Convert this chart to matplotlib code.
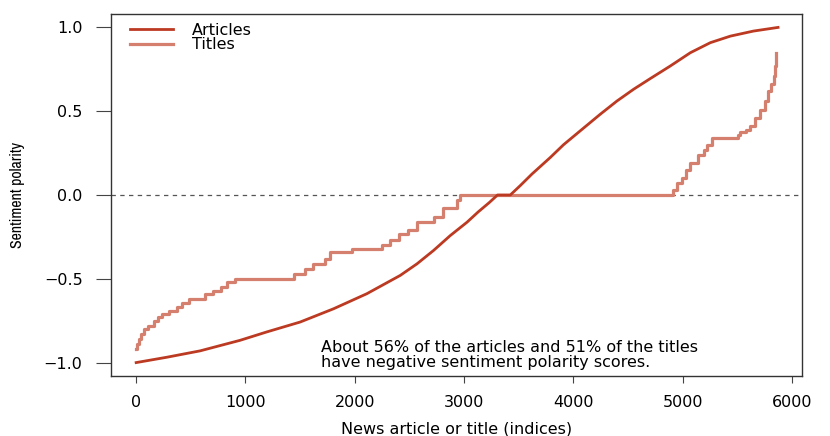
import matplotlib
matplotlib.use("Agg")
import matplotlib.pyplot as plt
from matplotlib import font_manager

# ---- data ----
article_idx = [0, 281, 585, 951, 1195, 1500, 1805, 2110, 2415, 2568, 2720, 2873,
               3025, 3130, 3230, 3305, 3422, 3513, 3620, 3788, 3909, 4062, 4245,
               4398, 4550, 4703, 4886, 5069, 5252, 5435, 5645, 5871]
article_val = [-1.0, -0.968, -0.930, -0.867, -0.817, -0.758, -0.679, -0.589, -0.480,
               -0.411, -0.331, -0.242, -0.163, -0.10, -0.045, 0.0, 0.0, 0.056, 0.125,
               0.224, 0.300, 0.383, 0.482, 0.561, 0.631, 0.695, 0.77, 0.849, 0.909,
               0.948, 0.978, 1.0]

title_idx = [0, 10, 25, 45, 70, 110, 160, 200, 240, 300, 375, 420, 480, 630, 700,
             780, 830, 900, 1440, 1546, 1620, 1730, 1775, 1976, 2250, 2325, 2400,
             2490, 2570, 2720, 2810, 2935, 2965, 4913, 4950, 4995, 5030, 5070, 5140,
             5190, 5225, 5270, 5508, 5525, 5580, 5617, 5660, 5710, 5750, 5782, 5810,
             5830, 5845, 5855]
title_val = [-0.92, -0.89, -0.86, -0.83, -0.80, -0.78, -0.75, -0.73, -0.71, -0.69,
             -0.67, -0.645, -0.62, -0.59, -0.57, -0.55, -0.52, -0.50, -0.47, -0.44,
             -0.41, -0.38, -0.34, -0.32, -0.30, -0.27, -0.23, -0.21, -0.16, -0.13,
             -0.08, -0.03, 0.0, 0.03, 0.07, 0.10, 0.15, 0.19, 0.24, 0.27, 0.30, 0.34,
             0.36, 0.375, 0.39, 0.41, 0.46, 0.51, 0.56, 0.62, 0.66, 0.71, 0.77, 0.85]

legend_labels = ["Articles", "Titles"]
x_ticks = [0, 1000, 2000, 3000, 4000, 5000, 6000]
y_ticks = [-1.0, -0.5, 0.0, 0.5, 1.0]
note = "About 56% of the articles and 51% of the titles\nhave negative sentiment polarity scores."

# ---- style ----
plt.rcParams['font.family'] = ['DejaVu Sans']
art_color = "#BC3A22"
tit_color = "#D5806F"
fs = 11.5

fig = plt.figure(figsize=(8.3, 4.36), dpi=100)
ax = fig.add_axes([111/830, 1-376/436, (802-111)/830, (376-14)/436])

ax.axhline(0, color="#555555", lw=0.9, ls=(0, (3.5, 3.5)), zorder=1)
l1, = ax.plot(article_idx, article_val, color=art_color, lw=2.0, zorder=3,
              label=legend_labels[0])
l2, = ax.step(title_idx, title_val, where='post', color=tit_color, lw=2.3, zorder=2,
              label=legend_labels[1])

ax.set_xlim(-230, 6090)
ax.set_ylim(-1.08, 1.08)
ax.set_xticks(x_ticks)
ax.set_xticklabels([str(t) for t in x_ticks])
ax.set_yticks(y_ticks)
ax.set_yticklabels([f"{t:.1f}".replace("-", "\u2212") for t in y_ticks])

for s in ax.spines.values():
    s.set_linewidth(1.0)
    s.set_color("#333333")
ax.tick_params(axis='y', length=10.5, width=0.8, color="#444444", labelsize=fs, pad=10)
ax.tick_params(axis='x', length=5, width=0.8, color="#444444", labelsize=fs, pad=9)

ax.set_xlabel("News article or title (indices)", fontsize=fs, labelpad=8)
narrow = [f.name for f in font_manager.fontManager.ttflist if 'Narrow' in f.name]
ylab_family = [narrow[0], 'Liberation Sans', 'DejaVu Sans'] if narrow else ['DejaVu Sans']
ax.set_ylabel("Sentiment polarity", fontsize=11.5, family=ylab_family)
ax.yaxis.set_label_coords(-0.125, 0.5)

leg = ax.legend(handles=[l1, l2], loc='upper left', frameon=False, fontsize=fs,
                handlelength=2.7, handletextpad=1.2, labelspacing=-0.05,
                borderaxespad=0.0, bbox_to_anchor=(0.018, 0.993))

ax.text(1692, -0.955, note, fontsize=fs, ha='left', va='center',
        transform=ax.transData, linespacing=1.05)

fig.savefig("out.png", dpi=100)
